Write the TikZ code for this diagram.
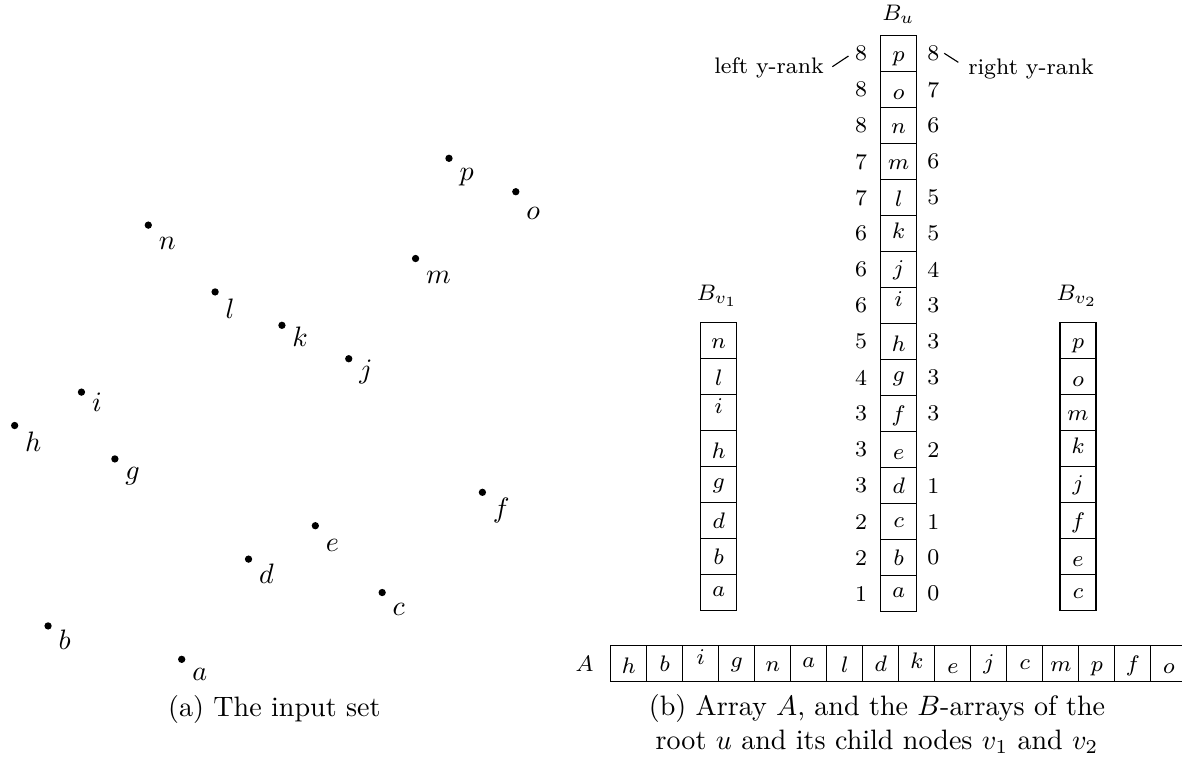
\documentclass[tikz,border=0pt]{standalone}
\usetikzlibrary{calc}
\def\defofs#1#2#3{\expandafter\def\csname cofs#1\endcsname{#2}\expandafter\def\csname pofs#1\endcsname{#3}}
\defofs{a}{22}{20.7}
\defofs{b}{25.5}{24}
\defofs{c}{24}{22.7}
\defofs{d}{26}{24.7}
\defofs{e}{27.5}{26}
\defofs{f}{26}{25}
\defofs{g}{21.5}{21}
\defofs{h}{28}{26}
\defofs{i}{18.5}{19.3}
\defofs{j}{23.5}{19.5}
\defofs{k}{23}{21.3}
\defofs{l}{27}{26.7}
\defofs{m}{25.5}{25}
\defofs{n}{25.5}{24.7}
\defofs{o}{27.5}{27.3}
\defofs{p}{25.5}{22.5}
\tikzset{
  ptdot/.style={circle,fill=black,inner sep=0pt,minimum size=2.6pt},
  ptlab/.style={anchor=base west,inner sep=0pt},
  arrcell/.style={draw,line width=0.4pt,inner sep=0pt,minimum width=12.816pt,minimum height=12.816pt},
  celltxt/.style={anchor=base,inner sep=0pt,font=\footnotesize},
  ranknum/.style={inner sep=0pt,font=\footnotesize},
  arrlabel/.style={anchor=base,inner sep=0pt,font=\footnotesize},
  captext/.style={anchor=base,inner sep=0pt},
  rankline/.style={line width=0.4pt}
}
\begin{document}
\begin{tikzpicture}[x=0.356pt,y=-0.356pt]
\clip (0,0) rectangle (1182,763);
% ---- (a) input points ----
\foreach \ltr/\ix/\iy in {a/5/0,b/1/1,c/11/2,d/7/3,e/9/4,f/14/5,g/3/6,h/0/7,i/2/8,j/10/9,k/8/10,l/6/11,m/12/12,n/4/13,o/15/14,p/13/15}{
  \node[ptdot] (pt\ltr) at ({14.65+33.41*\ix},{659.3-33.4*\iy}) {};
  \node[ptlab] (ptl\ltr) at ({24.65+33.41*\ix},{659.3-33.4*\iy+\csname pofs\ltr\endcsname}) {$\ltr$};
}
\node[captext] (capa) at (274.4,716.7) {(a) The input set};
% ---- B_u ----
\foreach \ltr/\lr/\rr [count=\i from 0] in {p/8/8,o/8/7,n/8/6,m/7/6,l/7/5,k/6/5,j/6/4,i/6/3,h/5/3,g/4/3,f/3/3,e/3/2,d/3/1,c/2/1,b/2/0,a/1/0}{
  \node[arrcell] (u\ltr) at (898.7,{53.7+36*\i}) {};
  \node[celltxt] (ut\ltr) at (898.7,{35.7+36*\i+\csname cofs\ltr\endcsname}) {$\ltr$};
  \node[ranknum] (ul\ltr) at (861,{53.7+36*\i}) {\lr};
  \node[ranknum] (ur\ltr) at (933.3,{53.7+36*\i}) {\rr};
}
\node[arrlabel] (Bu) at (898.3,20.7) {$B_u$};
\node[arrlabel,anchor=base east] (lyr) at (824.3,73.3) {left y-rank};
\node[arrlabel,anchor=base west] (ryr) at (967.7,74) {right y-rank};
\draw[rankline] ($(lyr.base east)+(8,-6.6)$) -- ($(ulp.west)+(-6,2.3)$);
\draw[rankline] ($(urp.east)+(4.4,-0.4)$) -- ($(ryr.base west)+(-9.4,-11.7)$);
% ---- B_v1 ----
\foreach \ltr [count=\i from 0] in {n,l,i,h,g,d,b,a}{
  \node[arrcell] (va\ltr) at (718.7,{340.7+36*\i}) {};
  \node[celltxt] (vat\ltr) at (718.7,{322.7+36*\i+\csname cofs\ltr\endcsname}) {$\ltr$};
}
\node[arrlabel] (Bv1) at (717.2,300.7) {$B_{v_1}$};
% ---- B_v2 ----
\foreach \ltr [count=\i from 0] in {p,o,m,k,j,f,e,c}{
  \node[arrcell] (vb\ltr) at (1078,{340.7+36*\i}) {};
  \node[celltxt] (vbt\ltr) at (1078,{322.7+36*\i+\csname cofs\ltr\endcsname}) {$\ltr$};
}
\node[arrlabel] (Bv2) at (1077,300.7) {$B_{v_2}$};
% ---- array A ----
\foreach \ltr [count=\i from 0] in {h,b,i,g,n,a,l,d,k,e,j,c,m,p,f,o}{
  \node[arrcell] (A\ltr) at ({628.8+36*\i},663.7) {};
  \node[celltxt] (At\ltr) at ({628.8+36*\i},{645.7+\csname cofs\ltr\endcsname}) {$\ltr$};
}
\node[ranknum] (Alab) at (584.6,663.7) {$A$};
\node[captext] (capb1) at (877,715) {(b) Array $A$, and the $B$-arrays of the};
\node[captext] (capb2) at (877,749.3) {root $u$ and its child nodes $v_1$ and $v_2$};
\end{tikzpicture}
\end{document}
